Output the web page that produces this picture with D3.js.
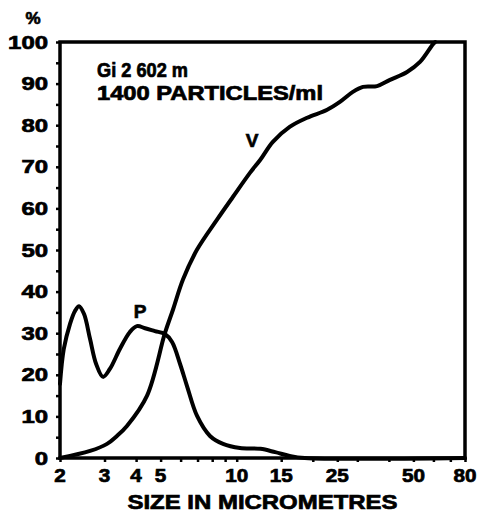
<!DOCTYPE html>
<html>
<head>
<meta charset="utf-8">
<script src="https://cdn.jsdelivr.net/npm/d3@7"></script>
<style>
  html, body { margin: 0; padding: 0; background: #fff; }
  svg { display: block; }
  text { font-family: "Liberation Sans", Arial, sans-serif; font-weight: bold; fill: #000; stroke: #000; stroke-width: 0.7px; }
</style>
</head>
<body>
<svg id="chart" width="482" height="514"></svg>
<script>
// ---- data ----
const xTickValues = [2, 3, 4, 5, 6, 7, 8, 9, 10, 15, 20, 25, 30, 40, 50, 60, 70, 80];
const xTickLabels = [2, 3, 4, 5, 10, 15, 25, 50, 80];
const yTickValues = d3.range(0, 101, 5);
const yTickLabels = [0, 10, 20, 30, 40, 50, 60, 70, 80, 90, 100];

// P curve: particle-number distribution (size µm, %)
const pSize = [2.0, 2.07, 2.19, 2.29, 2.38, 2.49, 2.63, 2.78, 2.96, 3.15, 3.45, 3.78, 4.03, 4.34, 4.75, 5.2, 5.55, 5.97, 6.36, 6.97, 7.84, 8.83, 10.3, 12.4, 14.2, 16.2, 18.6, 80];
const pValue = [17.8, 26.2, 32.2, 35.3, 36.5, 34.6, 28.6, 22.6, 19.5, 21.4, 26.2, 30.3, 31.7, 31.2, 30.5, 29.8, 27.9, 22.6, 17.3, 10.1, 5.3, 3.4, 2.4, 2.2, 1.4, 0.5, 0, 0];

// V curve: cumulative volume (size µm, %)
const vSize = [2.0, 2.63, 3.07, 3.36, 3.68, 4.42, 5.2, 5.6, 6.13, 6.97, 8.36, 9.67, 11.3, 12.4, 13.9, 16.2, 19.0, 22.8, 25.6, 28.8, 31.6, 35.9, 40.4, 47.2, 53.1, 59.8, 61.0];
const vValue = [0, 1.7, 3.4, 5.3, 7.7, 15, 30, 35.7, 42.9, 50.1, 57.3, 62.8, 68.6, 71.7, 76.0, 79.6, 81.8, 83.7, 85.6, 88.0, 89.2, 89.4, 90.9, 92.8, 95.2, 99.5, 100];

const titleLines = ["Gi 2 602 m", "1400 PARTICLES/ml"];
const xTitle = "SIZE IN MICROMETRES";
const yUnit = "%";

// ---- chart ----
const svg = d3.select("#chart");
const mLeft = 60, mRight = 465, mTop = 42, mBottom = 458;

const x = d3.scaleLog().domain([2, 80]).range([mLeft, mRight]);
const y = d3.scaleLinear().domain([0, 100]).range([mBottom, mTop]);

// Y axis ticks
const yAxis = d3.axisLeft(y).tickValues(yTickValues).tickSize(4).tickFormat("");
const gy = svg.append("g").attr("transform", `translate(${mLeft},0)`).call(yAxis);
gy.select(".domain").remove();
gy.selectAll(".tick line").attr("stroke", "#000").attr("stroke-width", 2.5);

// Y labels
svg.append("g").selectAll("text").data(yTickLabels).join("text")
  .attr("x", 48)
  .attr("y", d => y(d) + 6.5)
  .attr("text-anchor", "end")
  .attr("font-size", 18)
  .attr("textLength", d => String(d).length * 13.3)
  .attr("lengthAdjust", "spacingAndGlyphs")
  .text(d => d);

// X axis ticks
const xAxis = d3.axisBottom(x).tickValues(xTickValues).tickSize(4).tickFormat("");
const gx = svg.append("g").attr("transform", `translate(0,${mBottom})`).call(xAxis);
gx.select(".domain").remove();
gx.selectAll(".tick line").attr("stroke", "#000").attr("stroke-width", 2.5);

// X labels
svg.append("g").selectAll("text").data(xTickLabels).join("text")
  .attr("x", d => x(d))
  .attr("y", 482)
  .attr("text-anchor", "middle")
  .attr("font-size", 18)
  .attr("textLength", d => String(d).length * 11.5)
  .attr("lengthAdjust", "spacingAndGlyphs")
  .text(d => d);

// frame
svg.append("rect")
  .attr("x", mLeft).attr("y", mTop)
  .attr("width", mRight - mLeft).attr("height", mBottom - mTop)
  .attr("fill", "none").attr("stroke", "#000").attr("stroke-width", 3.5);

// curves
const line = d3.line().x(d => x(d[0])).y(d => y(d[1])).curve(d3.curveCatmullRom.alpha(0.5));
svg.append("path")
  .datum(pSize.map((s, i) => [s, pValue[i]]))
  .attr("d", line)
  .attr("fill", "none").attr("stroke", "#000").attr("stroke-width", 4)
  .attr("stroke-linejoin", "round").attr("stroke-linecap", "round");
svg.append("path")
  .datum(vSize.map((s, i) => [s, vValue[i]]))
  .attr("d", line)
  .attr("fill", "none").attr("stroke", "#000").attr("stroke-width", 4)
  .attr("stroke-linejoin", "round").attr("stroke-linecap", "round");

// curve labels
svg.append("text").attr("x", 140).attr("y", 318).attr("text-anchor", "middle")
  .attr("font-size", 19).text("P");
svg.append("text").attr("x", 252).attr("y", 147).attr("text-anchor", "middle")
  .attr("font-size", 19).text("V");

// annotation
svg.append("text").attr("x", 97).attr("y", 77).attr("font-size", 19.5)
  .attr("textLength", 91).attr("lengthAdjust", "spacingAndGlyphs")
  .text(titleLines[0]);
svg.append("text").attr("x", 97).attr("y", 100).attr("font-size", 19.5)
  .attr("textLength", 226).attr("lengthAdjust", "spacingAndGlyphs")
  .text(titleLines[1]);

// axis titles
svg.append("text").attr("x", (mLeft + mRight) / 2).attr("y", 509)
  .attr("text-anchor", "middle").attr("font-size", 20)
  .attr("textLength", 270).attr("lengthAdjust", "spacingAndGlyphs")
  .text(xTitle);
svg.append("text").attr("x", 33).attr("y", 24)
  .attr("text-anchor", "middle").attr("font-size", 17)
  .text(yUnit);
</script>
</body>
</html>
